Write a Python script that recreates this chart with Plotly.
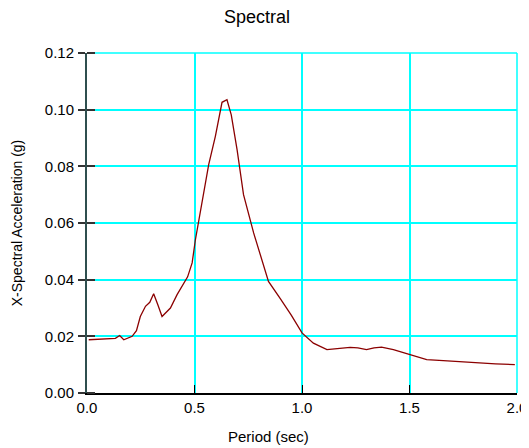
import plotly.graph_objects as go

period = [0.008, 0.132, 0.152, 0.171, 0.21, 0.23, 0.248, 0.272, 0.292, 0.31, 0.329, 0.349,
          0.388, 0.419, 0.468, 0.489, 0.504, 0.535, 0.566, 0.597, 0.628, 0.651, 0.671, 0.698,
          0.728, 0.775, 0.814, 0.844, 0.899, 0.95, 1.0, 1.053, 1.116, 1.17, 1.224, 1.26, 1.3,
          1.335, 1.37, 1.425, 1.5, 1.58, 1.657, 1.73, 1.81, 1.9, 1.99]
accel = [0.0188, 0.0193, 0.0203, 0.0188, 0.0200, 0.0220, 0.0270, 0.0306, 0.0320, 0.0350, 0.0312, 0.0270,
         0.0300, 0.0347, 0.0410, 0.0459, 0.0540, 0.0680, 0.0806, 0.0906, 0.1026, 0.1035, 0.0982, 0.0859,
         0.0700, 0.0565, 0.0470, 0.0394, 0.0333, 0.0275, 0.0212, 0.0176, 0.0153, 0.0158, 0.0161, 0.0159, 0.0153,
         0.0159, 0.0162, 0.0153, 0.0135, 0.0118, 0.0114, 0.0110, 0.0106, 0.0103, 0.0100]

x_ticks = [0.0, 0.5, 1.0, 1.5, 2.0]
y_ticks = [0.0, 0.02, 0.04, 0.06, 0.08, 0.10, 0.12]

fig = go.Figure()
fig.add_trace(go.Scatter(x=period, y=accel, mode="lines",
                         line=dict(color="#8B0000", width=1.3), showlegend=False))

font = "Liberation Sans, Arial, sans-serif"
fig.update_layout(
    width=521, height=440,
    margin=dict(l=79, r=12, t=45, b=55),
    paper_bgcolor="white", plot_bgcolor="white",
    font=dict(family=font, color="black"),
    title=dict(text="Spectral", x=0.478, xanchor="center", xref="container",
               y=0.98, yanchor="middle", yref="container", automargin=False,
               font=dict(size=18, family=font, color="black")),
    xaxis=dict(range=[0, 2.0], tickvals=x_ticks, ticktext=[f"{v:.1f}" for v in x_ticks],
               automargin=False,
               showgrid=True, gridcolor="#00FFFF", gridwidth=1.5, zeroline=False,
               showline=True, linecolor="black", linewidth=1.5,
               ticks="inside", ticklen=8, tickcolor="black", tickwidth=1,
               tickfont=dict(size=15, family=font)),
    yaxis=dict(range=[0, 0.12], tickvals=y_ticks, ticktext=[f"{v:.2f}" for v in y_ticks],
               automargin=False,
               showgrid=True, gridcolor="#00FFFF", gridwidth=1.6, zeroline=False,
               showline=True, linecolor="#2F4F4F", linewidth=2,
               ticks="outside", ticklen=7, tickcolor="#333333", tickwidth=1.5,
               ticklabelstandoff=1,
               minor=dict(ticks="inside", ticklen=8, tickcolor="#333333", tickwidth=1.5,
                          dtick=0.02, tick0=0.0, showgrid=False),
               tickfont=dict(size=15, family=font),
               title=dict(text="X-Spectral Acceleration (g)", font=dict(size=14, family=font), standoff=19)),
    annotations=[
        dict(text="Period (sec)", xref="paper", yref="paper", x=0.421, y=-0.129,
             xanchor="center", yanchor="middle", showarrow=False,
             font=dict(size=15, family=font, color="black")),
    ],
    shapes=[
        dict(type="line", xref="paper", yref="paper", x0=0, x1=1, y0=1, y1=1,
             line=dict(color="#00FFFF", width=1.6), layer="below"),
        dict(type="line", xref="paper", yref="paper", x0=1, x1=1, y0=0, y1=1,
             line=dict(color="#00FFFF", width=1.5), layer="below"),
    ],
)

fig.write_html("out.html")
